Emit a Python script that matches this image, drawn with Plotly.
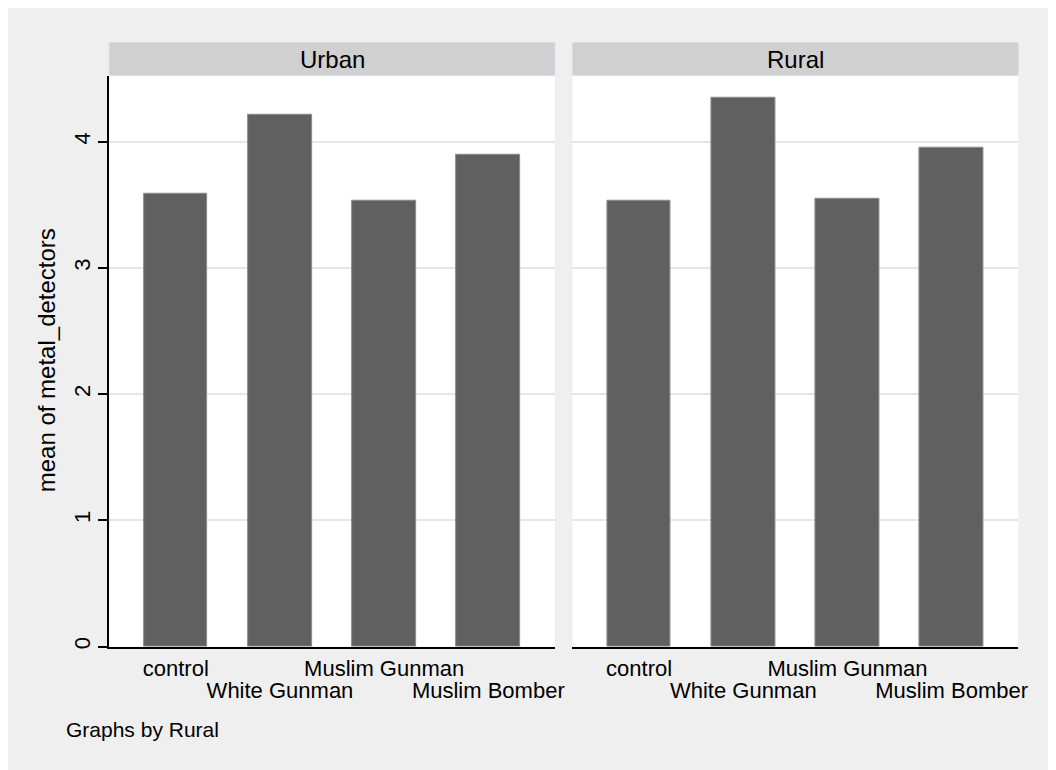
import plotly.graph_objects as go

categories = ["control", "White Gunman", "Muslim Gunman", "Muslim Bomber"]
positions = [1, 2, 3, 4]
urban = [3.59, 4.21, 3.53, 3.90]
rural = [3.53, 4.35, 3.55, 3.95]
panels = ["Urban", "Rural"]
y_ticks = [0, 1, 2, 3, 4]
y_title = "mean of metal_detectors"
note = "Graphs by Rural"

W, H = 1056, 770
OFF = 8  # page body margin
FONT = "Liberation Sans, Arial, Helvetica, sans-serif"
BG = "#EFEFEF"
STRIP = "#D0D0D0"
BAR = "#606060"

def px_x(v):
    return (v - OFF) / W

def px_y(v):
    return 1 - (v - OFF) / H

left_dom = [px_x(110), px_x(559.7)]
right_dom = [px_x(577.3), px_x(1027)]
y_dom = [px_y(649), px_y(76)]
x_range = [0.36, 4.64]
y_range = [0, 4.5225]

fig = go.Figure()
bar_style = dict(marker=dict(color=BAR, line=dict(color="#8C8C8C", width=1)), width=0.61,
                 showlegend=False, hoverinfo="x+y")
fig.add_trace(go.Bar(x=positions, y=urban, xaxis="x", yaxis="y", **bar_style))
fig.add_trace(go.Bar(x=positions, y=rural, xaxis="x2", yaxis="y2", **bar_style))
# invisible helper traces so the staggered label axes are drawn
fig.add_trace(go.Scatter(x=positions, y=[0] * 4, xaxis="x3", yaxis="y", mode="markers",
                         marker=dict(opacity=0), showlegend=False, hoverinfo="skip"))
fig.add_trace(go.Scatter(x=positions, y=[0] * 4, xaxis="x4", yaxis="y2", mode="markers",
                         marker=dict(opacity=0), showlegend=False, hoverinfo="skip"))

row1_vals = positions[0::2]
row1_text = categories[0::2]
row2_vals = positions[1::2]
row2_text = categories[1::2]

xcommon = dict(range=x_range, showgrid=False, zeroline=False, ticks="",
               showline=True, linecolor="black", linewidth=1.5,
               tickfont=dict(family=FONT, size=22, color="black"),
               fixedrange=True)
x_over = dict(range=x_range, showgrid=False, zeroline=False, ticks="", showline=False,
              tickfont=dict(family=FONT, size=22, color="black"), fixedrange=True)

fig.update_layout(
    width=W, height=H,
    margin=dict(l=0, r=0, t=0, b=0),
    paper_bgcolor=BG, plot_bgcolor="white",
    bargap=0,
    xaxis=dict(domain=left_dom, anchor="y", tickmode="array", tickvals=row1_vals,
               ticktext=row1_text, ticklabelstandoff=1, **xcommon),
    xaxis2=dict(domain=right_dom, anchor="y2", tickmode="array", tickvals=row1_vals,
                ticktext=row1_text, ticklabelstandoff=1, **xcommon),
    xaxis3=dict(overlaying="x", anchor="y", side="bottom", tickmode="array",
                tickvals=row2_vals, ticktext=row2_text, ticklabelstandoff=28, **x_over),
    xaxis4=dict(overlaying="x2", anchor="y2", side="bottom", tickmode="array",
                tickvals=row2_vals, ticktext=row2_text, ticklabelstandoff=28, **x_over),
    yaxis=dict(domain=y_dom, anchor="x", range=y_range, tickmode="array", tickvals=y_ticks,
               ticktext=[str(t) for t in y_ticks], tickangle=-90,
               ticks="outside", ticklen=9, tickwidth=1.5, tickcolor="black",
               showline=True, linecolor="black", linewidth=1.5,
               showgrid=True, gridcolor="#E6E6E6", gridwidth=1.5, zeroline=False,
               tickfont=dict(family=FONT, size=22, color="black"), fixedrange=True),
    yaxis2=dict(domain=y_dom, anchor="x2", range=y_range, matches="y", tickmode="array",
                tickvals=y_ticks, showticklabels=False, ticks="", showline=False,
                showgrid=True, gridcolor="#E6E6E6", gridwidth=1.5, zeroline=False,
                fixedrange=True),
)

shapes = []
annotations = []
for dom, name in zip([left_dom, right_dom], panels):
    shapes.append(dict(type="rect", xref="paper", yref="paper", x0=dom[0], x1=dom[1],
                       y0=px_y(75.7), y1=px_y(42.7), fillcolor=STRIP,
                       line=dict(color="#D5E1E7", width=1), layer="below"))
    annotations.append(dict(text=name, xref="paper", yref="paper", x=(dom[0] + dom[1]) / 2,
                            y=px_y(59.2), xanchor="center", yanchor="middle", showarrow=False,
                            font=dict(family=FONT, size=24, color="black")))

annotations.append(dict(text=y_title, xref="paper", yref="paper", x=px_x(47), y=px_y(362),
                        xanchor="center", yanchor="middle", textangle=-90, showarrow=False,
                        font=dict(family=FONT, size=24, color="black")))
annotations.append(dict(text=note, xref="paper", yref="paper", x=px_x(64), y=px_y(732),
                        xanchor="left", yanchor="middle", showarrow=False,
                        font=dict(family=FONT, size=21, color="black")))

fig.update_layout(shapes=shapes, annotations=annotations)
fig.write_html("out.html")
